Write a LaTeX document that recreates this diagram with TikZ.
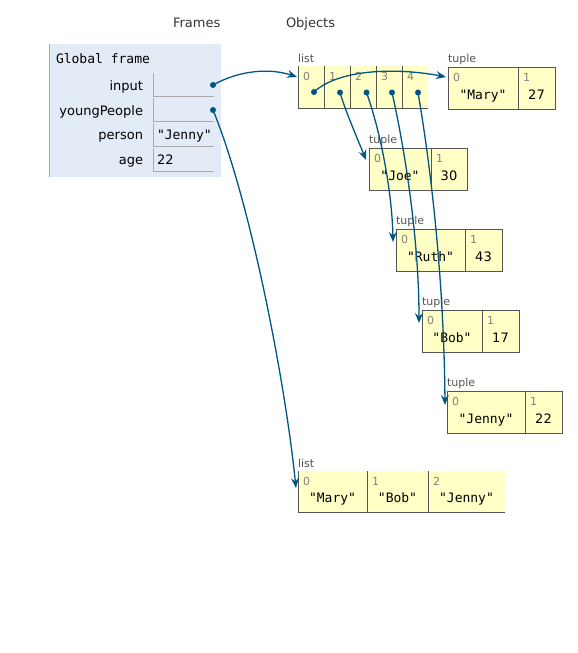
\documentclass[tikz,border=0pt]{standalone}
\usepackage{fontspec}
\setmainfont{DejaVu Sans}
\setmonofont{DejaVu Sans Mono}
\usetikzlibrary{arrows.meta,calc}
\definecolor{ptrblue}{HTML}{005583}
\definecolor{heapyellow}{HTML}{FFFFC6}
\definecolor{framebg}{HTML}{E2EBF6}
\definecolor{boxline}{HTML}{555555}
\definecolor{cellgray}{HTML}{AAAAAA}
\definecolor{idxgray}{HTML}{808080}
\definecolor{typegray}{HTML}{555555}
\definecolor{headgray}{HTML}{333333}

\begin{document}
\begin{tikzpicture}[x=1pt,y=-1pt,line width=1pt,
  every node/.style={inner sep=0pt,outer sep=0pt},
  header/.style={font=\fontsize{13}{15}\selectfont,text=headgray,anchor=base west},
  varname/.style={font=\fontsize{13}{15}\selectfont,anchor=base east},
  strval/.style={font=\ttfamily\fontsize{13}{15}\selectfont},
  numval/.style={font=\fontsize{13}{15}\selectfont},
  idx/.style={font=\fontsize{11}{13}\selectfont,text=idxgray,anchor=base west},
  typelbl/.style={font=\fontsize{11}{13}\selectfont,text=typegray,anchor=base west},
  heapcell/.style={fill=heapyellow,anchor=north west},
  tuplebox/.style={draw=boxline,fill=heapyellow,anchor=north west},
  ptrdot/.style={circle,fill=ptrblue,minimum size=6pt},
  ptr/.style={draw=ptrblue,line width=1.3pt,
    -{Stealth[length=10pt,width=8pt,inset=3.5pt]}},
  celledge/.style={draw=cellgray,line width=1pt},
  boxedge/.style={draw=boxline,line width=1pt}]
\useasboundingbox (0,0) rectangle (578,653);

% column headers
\node[header] (hframes) at (173,27.5) {Frames};
\node[header] (hobjects) at (286,27.5) {Objects};

% global frame
\node[fill=framebg,anchor=north west,minimum width=172pt,minimum height=133pt] (gframe) at (49,44) {};
\draw[draw=cellgray] (49.5,44) -- (49.5,177);
\node[font=\ttfamily\fontsize{13}{15}\selectfont,anchor=base west] (gtitle) at (56,63.5) {Global frame};

\node[varname] (n-input) at (143,90.5) {input};
\node[varname] (n-young) at (143,115) {youngPeople};
\node[varname] (n-person) at (143,139.5) {person};
\node[varname] (n-age) at (143,164) {age};

\draw[celledge] (153.5,73) -- (153.5,96.5) -- (214,96.5);
\draw[celledge] (153.5,98) -- (153.5,121.5) -- (214,121.5);
\draw[celledge] (153.5,123) -- (153.5,146) -- (214,146);
\draw[celledge] (153.5,147.5) -- (153.5,171) -- (214,171);

\node[strval,anchor=base west] (v-person) at (157,139.5) {"Jenny"};
\node[numval,anchor=base west] (v-age) at (157,164) {22};

% list bound to input
\node[typelbl] (t-inlist) at (298,62) {list};
\node[heapcell,minimum width=130pt,minimum height=42pt] (inlist) at (298,66) {};
\foreach \cx/\i in {298/0,324/1,350/2,376/3,402/4}{
  \draw[boxedge] (\cx+0.5,66) -- (\cx+0.5,108);
  \node[idx] at (\cx+5,80) {\i};
}
\draw[boxedge] (298,108) -- (428,108);

% tuples
\node[typelbl] (t-mary) at (448,62.5) {tuple};
\node[tuplebox,minimum width=107pt,minimum height=42pt] (mary) at (448,67) {};
\draw[boxedge] (518,67) -- (518,109);
\node[idx] at (453,81) {0};
\node[idx] at (523,81) {1};
\node[strval,anchor=base] at (483,99) {"Mary"};
\node[numval,anchor=base] at (536.5,99) {27};

\node[typelbl] (t-joe) at (369,143.5) {tuple};
\node[tuplebox,minimum width=98pt,minimum height=42pt] (joe) at (369,148) {};
\draw[boxedge] (431,148) -- (431,190);
\node[idx] at (374,162) {0};
\node[idx] at (436,162) {1};
\node[strval,anchor=base] at (400,180) {"Joe"};
\node[numval,anchor=base] at (449,180) {30};

\node[typelbl] (t-ruth) at (396,224.5) {tuple};
\node[tuplebox,minimum width=106pt,minimum height=42pt] (ruth) at (396,229) {};
\draw[boxedge] (465,229) -- (465,271);
\node[idx] at (401,243) {0};
\node[idx] at (470,243) {1};
\node[strval,anchor=base] at (430.5,261) {"Ruth"};
\node[numval,anchor=base] at (483.5,261) {43};

\node[typelbl] (t-bob) at (422,305.5) {tuple};
\node[tuplebox,minimum width=97pt,minimum height=42pt] (bob) at (422,310) {};
\draw[boxedge] (482,310) -- (482,352);
\node[idx] at (427,324) {0};
\node[idx] at (487,324) {1};
\node[strval,anchor=base] at (452,342) {"Bob"};
\node[numval,anchor=base] at (500.5,342) {17};

\node[typelbl] (t-jenny) at (447,386.5) {tuple};
\node[tuplebox,minimum width=115pt,minimum height=42pt] (jenny) at (447,391) {};
\draw[boxedge] (525,391) -- (525,433);
\node[idx] at (452,405) {0};
\node[idx] at (530,405) {1};
\node[strval,anchor=base] at (486,423) {"Jenny"};
\node[numval,anchor=base] at (543.5,423) {22};

% list bound to youngPeople
\node[typelbl] (t-young) at (298,467) {list};
\node[heapcell,minimum width=207pt,minimum height=41pt] (younglist) at (298,471) {};
\foreach \cx/\i in {298/0,367/1,428/2}{
  \draw[boxedge] (\cx+0.5,471) -- (\cx+0.5,512);
  \node[idx] at (\cx+5,485) {\i};
}
\draw[boxedge] (298,512) -- (505,512);
\node[strval,anchor=base] at (332.5,502) {"Mary"};
\node[strval,anchor=base] at (397.5,502) {"Bob"};
\node[strval,anchor=base] at (466.5,502) {"Jenny"};

% pointer origins
\node[ptrdot] (d-input) at (213,85) {};
\node[ptrdot] (d-young) at (213,110) {};
\node[ptrdot] (d-e0) at (314,92) {};
\node[ptrdot] (d-e1) at (340,92.5) {};
\node[ptrdot] (d-e2) at (366.5,92.5) {};
\node[ptrdot] (d-e3) at (392,92.5) {};
\node[ptrdot] (d-e4) at (418,92.5) {};

% pointer targets
\coordinate (in-inlist) at ($(inlist.north west)+(-1,11)$);
\coordinate (in-young) at ($(younglist.north west)+(-2,17)$);
\coordinate (in-mary) at ($(mary.north west)+(-2,10)$);
\coordinate (in-joe) at ($(joe.north west)+(-3,12)$);
\coordinate (in-ruth) at ($(ruth.north west)+(-3,13)$);
\coordinate (in-bob) at ($(bob.north west)+(-3,13)$);
\coordinate (in-jenny) at ($(jenny.north west)+(-2,14)$);

% pointers
\draw[ptr] (d-input.center) .. controls (240,70) and (270,68) .. (in-inlist);
\draw[ptr] (d-young.center) .. controls (250,200) and (285,380) .. (in-young);
\draw[ptr] (d-e0.center) .. controls (340,68) and (400,68) .. (in-mary);
\draw[ptr] (d-e1.center) .. controls (345,110) and (358,140) .. (in-joe);
\draw[ptr] (d-e2.center) .. controls (380,130) and (392,190) .. (in-ruth);
\draw[ptr] (d-e3.center) .. controls (405,150) and (419,240) .. (in-bob);
\draw[ptr] (d-e4.center) .. controls (433,180) and (444,290) .. (in-jenny);
\end{tikzpicture}
\end{document}
